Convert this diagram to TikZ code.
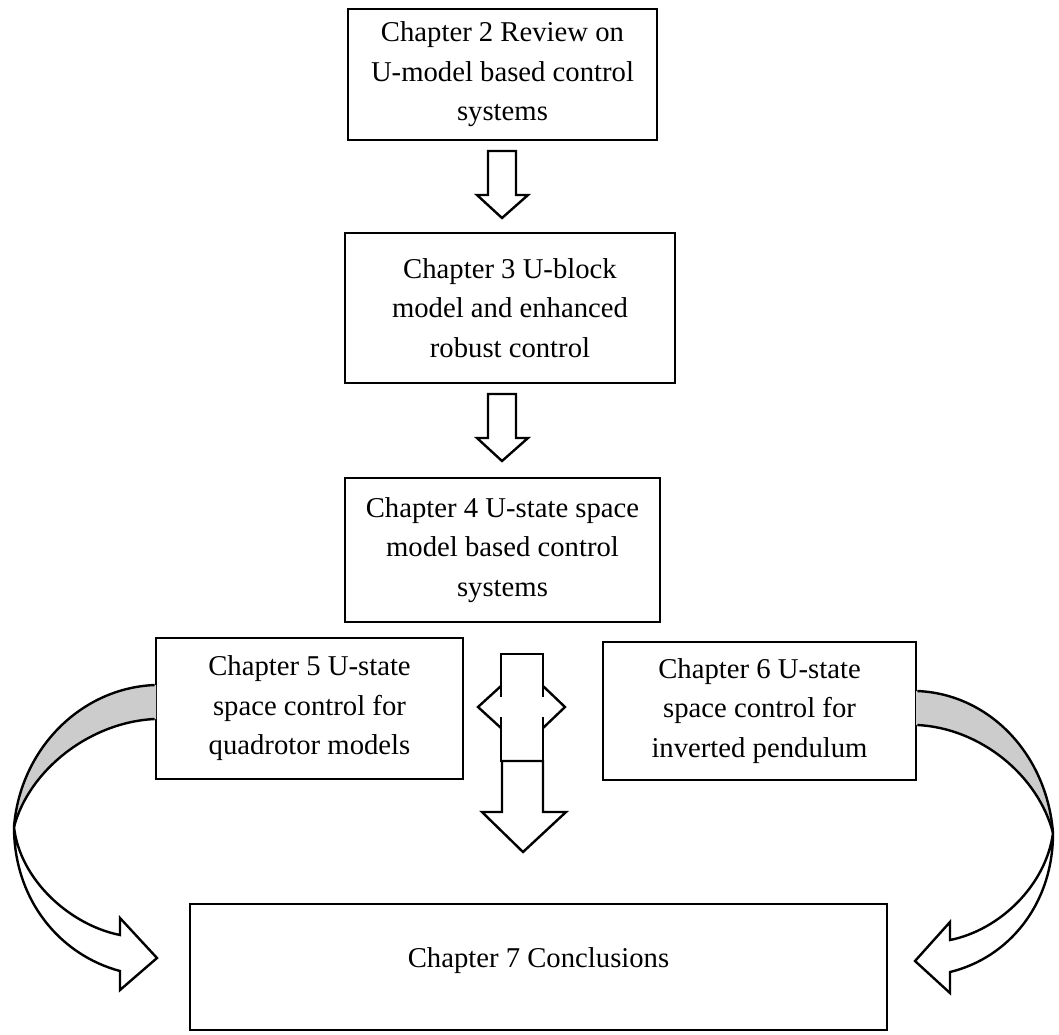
\documentclass[tikz,border=0pt]{standalone}
\usepackage{fontspec}
\setmainfont{Liberation Serif}
\begin{document}
\begin{tikzpicture}[x=1pt,y=-1pt,
  chapbox/.style={draw, line width=2.6pt, align=center, inner sep=0pt,
    font=\fontsize{28.7}{39.5}\selectfont},
  blockarrow/.style={draw, line width=2.4pt, line join=miter, fill=white},
  bandline/.style={line width=2.4pt},
  bandfill/.style={fill=black!20}]
\useasboundingbox (0,0) rectangle (1059,1034);

% chapter boxes
\node[chapbox, minimum width=309pt, minimum height=131pt] (c2) at (502.5,74.5)
  {Chapter 2 Review on\\U-model based control\\systems};
\node[chapbox, minimum width=330pt, minimum height=150pt] (c3) at (510,308)
  {Chapter 3 U-block\\model and enhanced\\robust control};
\node[chapbox, minimum width=315pt, minimum height=144pt] (c4) at (502.5,550)
  {Chapter 4 U-state space\\model based control\\systems};
\node[chapbox, minimum width=307pt, minimum height=141pt] (c5) at (309.5,708.5)
  {Chapter 5 U-state\\space control for\\quadrotor models};
\node[chapbox, minimum width=313pt, minimum height=138pt] (c6) at (759.5,711)
  {Chapter 6 U-state\\space control for\\inverted pendulum};
\node[chapbox, minimum width=697pt, minimum height=126pt, text depth=18pt] (c7) at (538.5,967)
  {Chapter 7 Conclusions};

% down block arrows between the upper chapters
\draw[blockarrow] (488,151) -- (516,151) -- (516,195) -- (528,195) -- (502,218)
  -- (477,195) -- (488,195) -- cycle;
\draw[blockarrow] (488,394) -- (516,394) -- (516,438) -- (528,438) -- (502,461)
  -- (477,438) -- (488,438) -- cycle;

% central left-right arrow crossing the vertical block
\begin{scope}[line width=2.4pt, line join=miter]
  \draw (501,697) -- (501,654) -- (543,654) -- (543,697);
  \draw (501,717) -- (501,761) -- (543,761) -- (543,717);
  \draw (501,686) -- (478,707) -- (501,728);
  \draw (543,686) -- (565,707) -- (543,728);
\end{scope}
% down arrow towards the conclusions
\draw[blockarrow] (502,761) -- (543,761) -- (543,812) -- (566,812) -- (523,852)
  -- (482,812) -- (502,812) -- cycle;

% left curved arrow from chapter 5
\fill[bandfill] (156,685) .. controls (80,688) and (20,750) .. (14,827)
  .. controls (29,770) and (90,722) .. (156,719) -- cycle;
\draw[bandline] (c5.west |- 0,685) .. controls (80,688) and (20,750) .. (14,827);
\draw[bandline] (c5.west |- 0,719) .. controls (90,722) and (29,770) .. (14,827);
\draw[bandline, line join=miter] (14,827) .. controls (20,880) and (70,925) .. (120,935)
  -- (120,918) -- (157,958) -- (120,990) -- (120,971)
  .. controls (60,955) and (14,900) .. (14,827);

% right curved arrow from chapter 6
\fill[bandfill] (916,691) .. controls (990,694) and (1047,755) .. (1053,833)
  .. controls (1038,775) and (980,728) .. (916,725) -- cycle;
\draw[bandline] (c6.east |- 0,691) .. controls (990,694) and (1047,755) .. (1053,833);
\draw[bandline] (c6.east |- 0,725) .. controls (980,728) and (1038,775) .. (1053,833);
\draw[bandline, line join=miter] (1053,833) .. controls (1046,885) and (1000,930) .. (950,940)
  -- (950,922) -- (915,961) -- (950,993) -- (950,972)
  .. controls (1008,958) and (1053,905) .. (1053,833);
\end{tikzpicture}
\end{document}
